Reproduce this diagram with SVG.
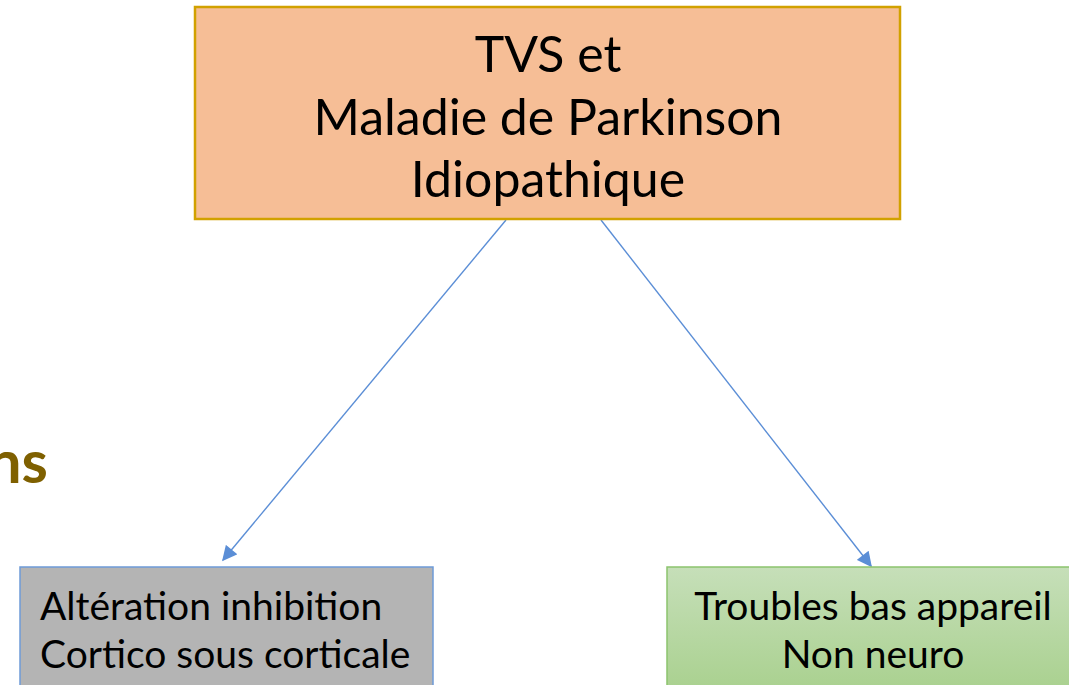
<svg xmlns="http://www.w3.org/2000/svg" width="1069" height="685" viewBox="0 0 1069 685">
<style>
.t{font-family:Lato,"Open Sans","Liberation Sans",sans-serif;fill:#000}
.main{font-size:50px;text-anchor:middle}
.sub{font-size:39px}
.conn{stroke:#5B8ED6;stroke-width:1.4;fill:none;marker-end:url(#ah)}
</style>
<defs>
<marker id="ah" viewBox="0 0 10 10" refX="9" refY="5" markerWidth="16" markerHeight="15" markerUnits="userSpaceOnUse" orient="auto">
<path d="M0,0 L10,5 L0,10 Z" fill="#5B8ED6"/>
</marker>
<linearGradient id="gg" x1="0" y1="0" x2="0" y2="1">
<stop offset="0" stop-color="#C6DFB9"/>
<stop offset="1" stop-color="#A8D08D"/>
</linearGradient>
</defs>
<rect width="1069" height="685" fill="#fff"/>
<text x="48" y="483" font-family="Lato,'Open Sans',sans-serif" font-weight="bold" font-size="60" fill="#7F6000" text-anchor="end">ns</text>
<g id="connectors">
<line class="conn" x1="506" y1="220" x2="223" y2="560"/>
<line class="conn" x1="601" y1="220" x2="871" y2="566"/>
</g>
<g id="node-top">
<rect x="195" y="7" width="705" height="212" fill="#F6BE96" stroke="#D1A100" stroke-width="2.5"/>
<text class="t main" x="548" y="72">TVS et</text>
<text class="t main" x="548" y="135">Maladie de Parkinson</text>
<text class="t main" x="548" y="197">Idiopathique</text>
</g>
<g id="node-left">
<rect x="20" y="567" width="413" height="130" fill="#B4B4B4" stroke="#6E9BD8" stroke-width="1.5"/>
<text class="t sub" x="40" y="620">Altération inhibition</text>
<text class="t sub" x="40" y="668">Cortico sous corticale</text>
</g>
<g id="node-right">
<rect x="667" y="567" width="412" height="130" fill="url(#gg)" stroke="#8CC46E" stroke-width="1.5"/>
<text class="t sub" x="873" y="620" text-anchor="middle">Troubles bas appareil</text>
<text class="t sub" x="873" y="668" text-anchor="middle">Non neuro</text>
</g>
</svg>
